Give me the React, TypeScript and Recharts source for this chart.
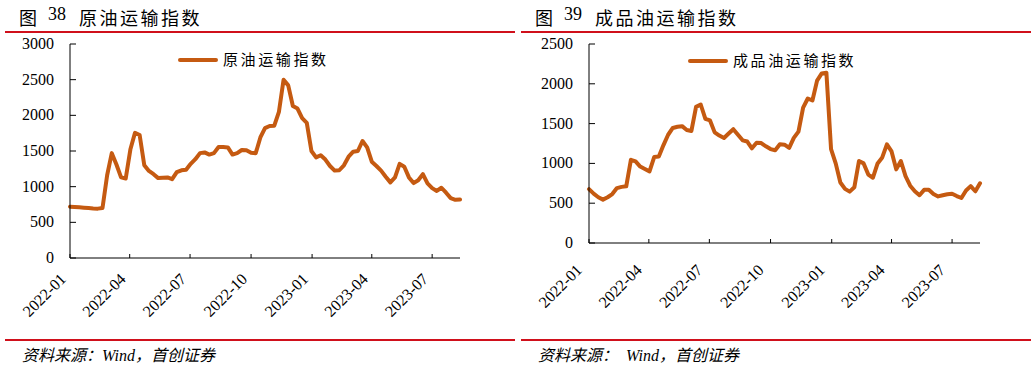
import React from "react";
import { LineChart, Line, XAxis, YAxis } from "recharts";

// weekly readings, first week starting 2022-01-01
const startDate = "2022-01-01";
const tickLabels = ["2022-01", "2022-04", "2022-07", "2022-10", "2023-01", "2023-04", "2023-07"];
const crudeTicks = [0, 500, 1000, 1500, 2000, 2500, 3000];
const productTicks = [0, 500, 1000, 1500, 2000, 2500];

const crudeIndex = [
  720, 715, 710, 705, 700, 695, 692, 700, 1160, 1470, 1310, 1130, 1115, 1520, 1755, 1725,
  1300, 1220, 1175, 1120, 1125, 1130, 1105, 1205, 1230, 1238, 1320, 1385, 1470, 1480, 1450,
  1470, 1555, 1555, 1550, 1450, 1470, 1514, 1510, 1476, 1470, 1690, 1820, 1850, 1855, 2050,
  2500, 2420, 2130, 2095, 1960, 1895, 1500, 1410, 1440, 1380, 1290, 1225, 1230, 1300, 1420,
  1490, 1500, 1640, 1550, 1350, 1290, 1225, 1140, 1060, 1130, 1320, 1280, 1130, 1050, 1090,
  1175, 1045, 980, 940, 985, 915, 840, 815, 820,
];

const productIndex = [
  677, 620, 575, 545, 575, 615, 690, 705, 712, 1045, 1025, 960, 930, 900, 1080, 1086,
  1230, 1360, 1445, 1460, 1468, 1420, 1408, 1710, 1740, 1560, 1540, 1390, 1350, 1320, 1375,
  1430, 1360, 1290, 1275, 1190, 1260, 1255, 1215, 1180, 1165, 1240, 1235, 1195, 1320, 1400,
  1700, 1815, 1790, 2040, 2130, 2140, 1180, 1000, 760, 680, 645, 700, 1030, 1000, 860,
  820, 1000, 1075, 1240, 1150, 925, 1030, 840, 720, 650, 600, 668, 668, 615, 585, 600,
  612, 619, 590, 565, 660, 715, 650, 750,
];

const DAY = 86400000;
const t0 = Date.parse(startDate);
const dayOf = (label: string) => Math.round((Date.parse(label + "-01") - t0) / DAY);
const xTicks = tickLabels.map(dayOf);
const lastDay = (crudeIndex.length - 1) * 7;

const crudeData = crudeIndex.map((v, i) => ({ day: i * 7, value: v }));
const productData = productIndex.map((v, i) => ({ day: i * 7, value: v }));

const SERIF = '"Times New Roman", "Liberation Serif", serif';
const CJK = '"Times New Roman", "Liberation Serif", "Noto Sans CJK SC", sans-serif';
const LINE = "#C55A11";
const RED = "#D0101B";

const fmtTick = (d: number) => {
  const dt = new Date(t0 + d * DAY);
  return `${dt.getUTCFullYear()}-${String(dt.getUTCMonth() + 1).padStart(2, "0")}`;
};

function YTick(props: any) {
  const { x, y, payload } = props;
  const ax = x + 16;
  return (
    <g>
      <line x1={ax} x2={ax + 6} y1={y} y2={y} stroke="#000" />
      <text x={x} y={y} dy={5} textAnchor="end" fontSize={16} fontFamily={SERIF} fill="#000">
        {payload.value}
      </text>
    </g>
  );
}

const makeXTick = (dx: number, dy: number) => (props: any) => {
  const { x, y, payload } = props;
  const tx = x + dx;
  const ty = y + dy;
  return (
    <g>
      <line x1={x} x2={x} y1={y} y2={y - 4} stroke="#000" />
      <text x={tx} y={ty} textAnchor="end" fontSize={16} fontFamily={SERIF} fill="#000"
        transform={`rotate(-45 ${tx} ${ty})`}>
        {fmtTick(payload.value)}
      </text>
    </g>
  );
};

function Panel(p: {
  left: number; num: string; title: string; legend: string; legendX: number; legendY: number;
  data: { day: number; value: number }[]; ticks: number[]; max: number;
  mLeft: number; mRight: number; xHeight: number; tickDx: number; tickDy: number; source: string;
}) {
  return (
    <div style={{ position: "absolute", left: p.left, top: 0, width: 516, height: 368 }}>
      <div style={{ position: "absolute", left: 19, top: 4, fontFamily: CJK, fontSize: 18, color: "#000", whiteSpace: "nowrap" }}>
        <span>图</span>
        <span style={{ position: "absolute", left: 29 }}>{p.num}</span>
        <span style={{ position: "absolute", left: 60, letterSpacing: 2.5 }}>{p.title}</span>
      </div>
      <div style={{ position: "absolute", left: 5, top: 31, width: 510, height: 2, background: RED }} />
      <LineChart width={516} height={340} data={p.data}
        margin={{ top: 44, right: p.mRight, left: p.mLeft, bottom: 0 }}>
        <XAxis dataKey="day" type="number" domain={[0, lastDay]} ticks={xTicks} interval={0}
          height={p.xHeight} tickSize={0} tickMargin={0} tickLine={false}
          axisLine={{ stroke: "#000" }} tick={makeXTick(p.tickDx, p.tickDy)} />
        <YAxis domain={[0, p.max]} ticks={p.ticks} interval={0} width={60} tickSize={0} tickMargin={16}
          tickLine={false} axisLine={{ stroke: "#000" }} tick={<YTick />} />
        <Line dataKey="value" type="linear" stroke={LINE} strokeWidth={4} dot={false}
          strokeLinejoin="round" strokeLinecap="round" isAnimationActive={false} />
      </LineChart>
      <div style={{ position: "absolute", left: p.legendX, top: p.legendY - 10, display: "flex", alignItems: "center", whiteSpace: "nowrap" }}>
        <div style={{ width: 40, height: 4, background: LINE, borderRadius: 2 }} />
        <span style={{ marginLeft: 5, fontFamily: CJK, fontSize: 15, letterSpacing: 2.6, lineHeight: "20px" }}>{p.legend}</span>
      </div>
      <div style={{ position: "absolute", left: 5, top: 339, width: 510, height: 2, background: RED }} />
      <div style={{ position: "absolute", left: 22, top: 342, fontFamily: CJK, fontSize: 16, fontStyle: "italic", whiteSpace: "pre" }}>
        {p.source}
      </div>
    </div>
  );
}

export default function App() {
  return (
    <div style={{ position: "absolute", left: 0, top: 0, width: 1032, height: 368, background: "#fff", overflow: "hidden" }}>
      <Panel left={0} num="38" title="原油运输指数" legend="原油运输指数" legendX={178} legendY={60}
        data={crudeData} ticks={crudeTicks} max={3000} mLeft={10} mRight={56} xHeight={82}
        tickDx={-3} tickDy={22} source="资料来源：Wind，首创证券" />
      <Panel left={516} num="39" title="成品油运输指数" legend="成品油运输指数" legendX={172} legendY={61}
        data={productData} ticks={productTicks} max={2500} mLeft={13} mRight={52} xHeight={97}
        tickDx={-6} tickDy={28} source="资料来源：  Wind，首创证券" />
    </div>
  );
}
